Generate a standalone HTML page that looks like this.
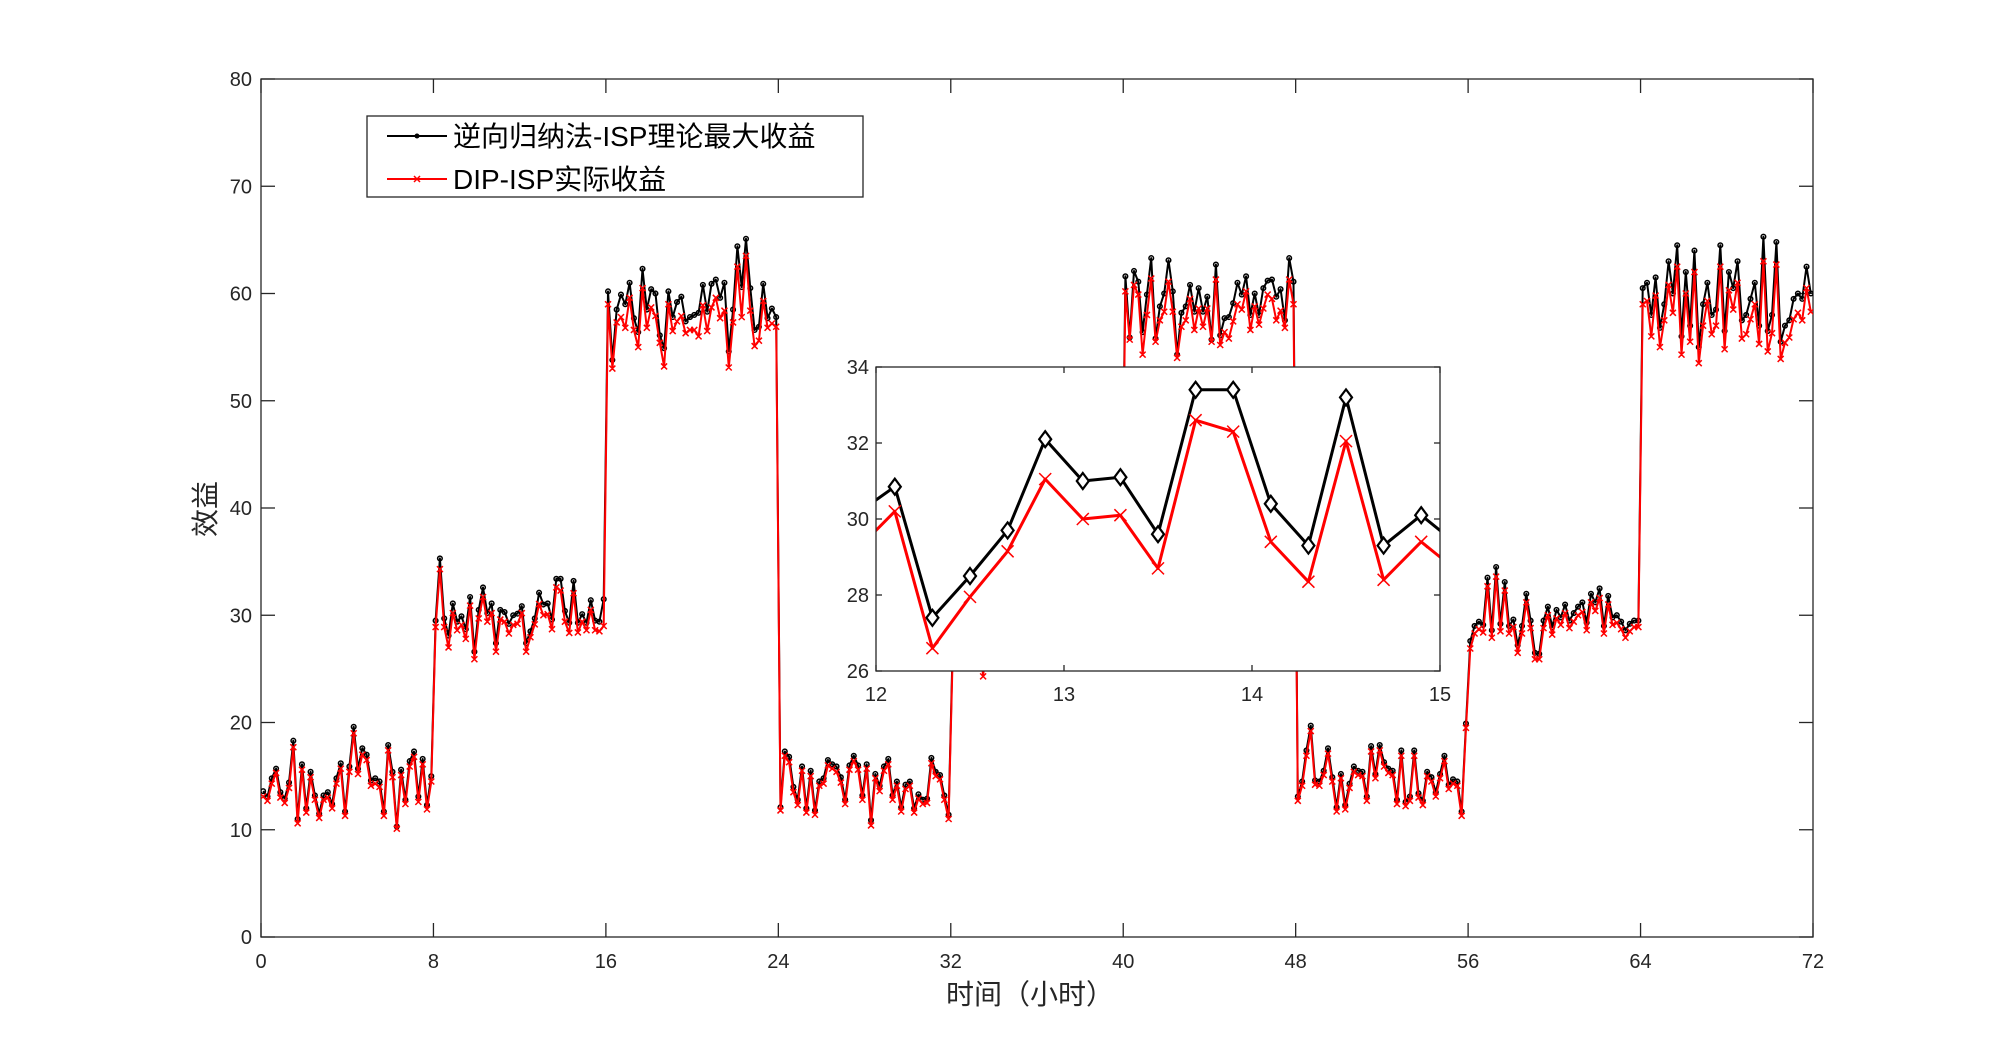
<!DOCTYPE html>
<html><head><meta charset="utf-8"><style>
html,body{margin:0;padding:0;background:#fff;}
svg{display:block;font-family:"Liberation Sans","Noto Sans CJK SC",sans-serif;}
</style></head><body>
<svg id="chart" width="2002" height="1052" viewBox="0 0 2002 1052" xmlns="http://www.w3.org/2000/svg">
<defs>
<clipPath id="mainClip"><rect x="261" y="79" width="1552" height="858"/></clipPath>
<clipPath id="insetClip"><rect x="876" y="367" width="564" height="304"/></clipPath>
</defs>
<rect x="0" y="0" width="2002" height="1052" fill="#fff"/>
<g id="mainPlot"></g>
<text x="0" y="0" transform="translate(215,509) rotate(-90)" text-anchor="middle" font-size="28" fill="#262626">效益</text>
<text x="1030" y="1004" text-anchor="middle" font-size="28" fill="#262626">时间（小时）</text>
<g>
<rect x="367" y="116" width="496" height="81" fill="#fff" stroke="#262626" stroke-width="1.3"/>
<g>
<line x1="387" y1="136" x2="447" y2="136" stroke="#000" stroke-width="2"/>
<circle cx="417" cy="136" r="2.5" fill="#000"/>
<text x="453" y="146" font-size="28" fill="#000">逆向归纳法-ISP理论最大收益</text>
</g>
<g>
<line x1="387" y1="179" x2="447" y2="179" stroke="#f00" stroke-width="2"/>
<path d="M414 176 L420 182 M420 176 L414 182" stroke="#f00" stroke-width="1.5"/>
<text x="453" y="189" font-size="28" fill="#000">DIP-ISP实际收益</text>
</g>
</g>
<g id="insetPlot"></g>
</svg>
<script>
const blackSeg1 = [13.6,13.1,14.8,15.7,13.5,12.9,14.4,18.3,11.0,16.1,12.0,15.4,13.2,11.5,13.2,13.5,12.4,14.8,16.2,11.7,15.9,19.6,15.7,17.6,17.0,14.6,14.8,14.5,11.7,17.9,15.4,10.3,15.6,12.8,16.4,17.3,13.1,16.6,12.3,15.0];
const redSeg1 = [13.1,12.7,14.3,15.3,13.0,12.5,13.9,17.7,10.6,15.6,11.6,14.9,12.8,11.1,12.8,13.0,12.0,14.3,15.7,11.3,15.4,19.0,15.2,17.0,16.5,14.1,14.3,14.0,11.3,17.4,14.9,10.1,15.1,12.4,15.9,16.8,12.6,16.1,11.9,14.5];
const blackSeg2 = [29.5,35.3,29.7,28.1,31.1,29.4,29.9,28.7,31.7,26.6,30.5,32.6,30.2,31.1,27.4,30.5,30.3,29.2,30.0,30.15,30.85,27.4,28.5,29.7,32.1,31.0,31.1,29.6,33.4,33.4,30.4,29.3,33.2,29.3,30.1,29.3,31.4,29.5,29.4,31.5];
const redSeg2 = [28.9,34.3,28.9,27.0,30.2,28.6,29.1,27.8,30.9,25.9,29.7,31.7,29.4,30.2,26.6,29.6,29.4,28.3,29.1,29.2,30.2,26.6,27.95,29.15,31.05,30.0,30.1,28.7,32.6,32.3,29.4,28.35,32.05,28.4,29.4,28.6,30.5,28.6,28.5,29.0];
const blackSeg3 = [60.2,53.8,58.5,59.9,59.0,61.0,57.7,56.4,62.3,58.5,60.4,60.0,56.1,54.9,60.2,57.8,59.2,59.7,57.4,57.8,58.0,58.2,60.8,58.3,60.9,61.3,59.6,61.0,54.6,58.5,64.4,60.6,65.1,60.5,56.6,56.9,60.9,57.7,58.6,57.8];
const redSeg3 = [59.0,53.0,57.3,57.8,56.8,59.6,56.6,55.0,60.5,56.8,58.7,57.9,55.4,53.2,59.0,56.5,57.4,57.9,56.3,56.6,56.6,56.0,58.9,56.5,58.7,59.6,57.7,58.4,53.1,57.3,62.5,57.8,63.5,58.4,55.1,55.6,59.3,56.8,57.2,56.9];
const blackSeg4 = [12.1,17.3,16.8,14.0,12.8,15.9,12.0,15.5,11.8,14.5,14.8,16.5,16.1,15.9,14.9,12.8,16.0,16.9,16.0,13.2,16.1,10.9,15.2,14.1,15.9,16.6,13.2,14.5,12.1,14.2,14.5,12.0,13.3,12.8,12.9,16.7,15.4,15.1,13.2,11.4];
const redSeg4 = [11.8,16.9,16.3,13.5,12.3,15.5,11.6,15.0,11.4,14.1,14.3,16.0,15.7,15.4,14.4,12.4,15.6,16.4,15.6,12.8,15.7,10.4,14.8,13.6,15.5,16.1,12.8,14.1,11.7,13.8,14.1,11.6,12.9,12.4,12.5,16.2,15.0,14.7,12.8,11.0];
const blackSeg5 = [28.0,29.5,31.0,30.2,28.8,27.5,30.5,26.5,29.4,31.5,28.6,30.8,29.9,32.4,28.2,30.6,31.8,29.0,30.4,33.0,28.9,30.2,31.4,29.6,27.9,30.9,32.2,29.8,31.0,28.5,30.7,32.6,29.2,30.1,31.3,28.7,30.5,31.9,29.5,30.6];
const redSeg5 = [27.1,28.6,30.0,29.3,27.9,26.6,29.5,24.3,28.5,30.5,27.7,29.8,29.0,31.4,27.3,29.6,30.8,28.1,29.4,32.0,28.0,29.2,30.4,28.7,27.0,29.9,31.2,28.9,30.0,27.6,29.7,31.6,28.3,29.1,30.3,27.8,29.5,30.9,28.6,29.6];
const blackSeg6 = [61.6,55.9,62.1,61.1,56.4,59.9,63.3,55.8,58.8,60.0,63.1,60.2,54.3,58.2,58.8,60.8,58.3,60.5,58.3,59.7,55.7,62.7,56.1,57.7,57.8,59.1,61.0,59.9,61.6,58.0,60.0,58.0,60.5,61.2,61.3,59.7,60.4,57.5,63.3,61.1];
const redSeg6 = [60.2,55.7,60.8,59.9,54.3,58.0,61.4,55.5,57.5,58.3,61.1,58.3,54.0,56.9,57.5,59.5,56.6,58.6,56.9,58.6,55.5,61.3,55.2,56.4,55.8,57.4,59.0,58.5,60.2,56.6,58.8,57.1,58.6,59.9,59.5,57.5,58.4,56.8,61.3,59.0];
const blackSeg7 = [13.1,14.5,17.4,19.7,14.6,14.5,15.5,17.6,14.9,12.1,15.2,12.3,14.3,15.9,15.5,15.4,13.1,17.8,15.2,17.9,16.3,15.7,15.5,12.8,17.4,12.6,13.1,17.4,13.4,12.7,15.4,14.9,13.5,15.2,16.9,14.2,14.7,14.5,11.7,19.9];
const redSeg7 = [12.7,14.1,16.9,19.2,14.2,14.1,15.1,17.1,14.5,11.7,14.8,11.9,13.9,15.4,15.1,15.0,12.7,17.3,14.8,17.4,15.9,15.3,15.1,12.4,16.9,12.2,12.7,16.9,13.0,12.3,15.0,14.5,13.1,14.8,16.4,13.8,14.3,14.1,11.3,19.5];
const blackSeg8 = [27.6,29.0,29.4,29.1,33.5,28.6,34.5,29.2,33.1,29.0,29.6,27.2,29.0,32.0,29.5,26.5,26.4,29.5,30.8,28.9,30.5,29.8,31.0,29.5,30.2,30.8,31.2,29.3,32.0,31.2,32.5,29.0,31.8,29.8,30.0,29.4,28.6,29.2,29.5,29.5];
const redSeg8 = [26.9,28.3,28.7,28.4,32.7,27.9,33.6,28.5,32.3,28.3,28.9,26.5,28.3,31.2,28.8,25.9,25.9,28.8,30.0,28.2,29.7,29.1,30.2,28.8,29.4,30.0,30.3,28.6,31.2,30.4,31.6,28.3,31.0,29.1,29.3,28.7,27.9,28.5,28.9,28.9];
const blackSeg9 = [60.5,61.0,58.0,61.5,56.8,59.0,63.0,60.0,64.5,56.0,62.0,57.0,64.0,55.0,59.0,61.0,58.0,58.5,64.5,56.5,62.0,60.5,63.0,57.5,58.0,59.5,61.0,57.0,65.3,56.5,58.0,64.8,55.5,57.0,57.5,59.5,60.0,59.5,62.5,60.0];
const redSeg9 = [59.0,59.3,56.0,59.8,55.0,57.5,60.8,58.2,62.5,54.3,60.0,55.5,62.0,53.5,57.0,59.3,56.2,57.0,62.5,54.8,60.3,58.5,61.0,55.8,56.2,57.6,59.0,55.3,63.0,54.6,56.3,62.7,53.9,55.4,55.9,57.6,58.2,57.5,60.5,58.3];
const xTicks = [0,8,16,24,32,40,48,56,64,72];
const yTicks = [0,10,20,30,40,50,60,70,80];
const insetXTicks = [12,13,14,15];
const insetYTicks = [26,28,30,32,34];

const blackVals = [].concat(blackSeg1,blackSeg2,blackSeg3,blackSeg4,blackSeg5,blackSeg6,blackSeg7,blackSeg8,blackSeg9);
const redVals = [].concat(redSeg1,redSeg2,redSeg3,redSeg4,redSeg5,redSeg6,redSeg7,redSeg8,redSeg9);
const times = blackVals.map((v,i)=>0.1+0.2*i);

const NS = 'http://www.w3.org/2000/svg';
function mk(tag, attrs, parent){const e=document.createElementNS(NS,tag);for(const k in attrs)e.setAttribute(k,attrs[k]);parent.appendChild(e);return e;}

const M = {l:261,r:1813,t:79,b:937,x0:0,x1:72,y0:0,y1:80};
const mx = t => M.l + (t-M.x0)/(M.x1-M.x0)*(M.r-M.l);
const my = v => M.b - (v-M.y0)/(M.y1-M.y0)*(M.b-M.t);
const main = document.getElementById('mainPlot');
const mainBox = mk('rect',{x:M.l,y:M.t,width:M.r-M.l,height:M.b-M.t,fill:'#fff',stroke:'#262626','stroke-width':1.3},main);


xTicks.forEach(t=>{
  const x=mx(t);
  mk('line',{x1:x,y1:M.b,x2:x,y2:M.b-14,stroke:'#262626','stroke-width':1.3},main);
  mk('line',{x1:x,y1:M.t,x2:x,y2:M.t+14,stroke:'#262626','stroke-width':1.3},main);
  const lb=mk('text',{x:x,y:M.b+31,'text-anchor':'middle','font-size':20,fill:'#262626'},main);
  lb.textContent=t;
  
  
});
yTicks.forEach(v=>{
  const y=my(v);
  mk('line',{x1:M.l,y1:y,x2:M.l+14,y2:y,stroke:'#262626','stroke-width':1.3},main);
  mk('line',{x1:M.r,y1:y,x2:M.r-14,y2:y,stroke:'#262626','stroke-width':1.3},main);
  const lb=mk('text',{x:M.l-9,y:y+7,'text-anchor':'end','font-size':20,fill:'#262626'},main);
  lb.textContent=v;
  
  
});

function drawSeries(parent, xs, ys, fx, fy, color, width, marker, msize, name, clip){
  const g=mk('g',{'clip-path':'url(#'+clip+')'},parent);
  
  
  const pts=xs.map((t,i)=>fx(t).toFixed(1)+','+fy(ys[i]).toFixed(1)).join(' ');
  mk('polyline',{points:pts,fill:'none',stroke:color,'stroke-width':width,'stroke-linejoin':'round'},g);
  let d='';
  xs.forEach((t,i)=>{
    const x=fx(t), y=fy(ys[i]), s=msize;
    if(marker==='o') d+=`M${x-s} ${y}a${s} ${s} 0 1 0 ${2*s} 0a${s} ${s} 0 1 0 ${-2*s} 0`;
    else if(marker==='x') d+=`M${x-s} ${y-s}L${x+s} ${y+s}M${x+s} ${y-s}L${x-s} ${y+s}`;
    else if(marker==='d') d+=`M${x} ${y-s}L${x+s*0.75} ${y}L${x} ${y+s}L${x-s*0.75} ${y}Z`;
  });
  mk('path',{d:d,fill:marker==='d'?'#fff':'none',stroke:color,'stroke-width':marker==='d'?2.2:1.5},g);
}
drawSeries(main,times,blackVals,mx,my,'#000',2,'o',2.3,'series-theoretical-max','mainClip');
drawSeries(main,times,redVals,mx,my,'#f00',2,'x',3,'series-dip-isp-actual','mainClip');

const I = {l:876,r:1440,t:367,b:671,x0:12,x1:15,y0:26,y1:34};
const ix = t => I.l + (t-I.x0)/(I.x1-I.x0)*(I.r-I.l);
const iy = v => I.b - (v-I.y0)/(I.y1-I.y0)*(I.b-I.t);
const inset=document.getElementById('insetPlot');
const ibg=mk('rect',{x:I.l,y:I.t,width:I.r-I.l,height:I.b-I.t,fill:'#fff'},inset);


const iT=[],iB=[],iR=[];
times.forEach((t,i)=>{ if(t>11.7&&t<15.3){iT.push(t);iB.push(blackVals[i]);iR.push(redVals[i]);} });
drawSeries(inset,iT,iB,ix,iy,'#000',3,'d',8,'inset-series-theoretical-max','insetClip');
drawSeries(inset,iT,iR,ix,iy,'#f00',3,'x',6,'inset-series-dip-isp-actual','insetClip');
const ibox=mk('rect',{x:I.l,y:I.t,width:I.r-I.l,height:I.b-I.t,fill:'none',stroke:'#262626','stroke-width':1.3},inset);


insetXTicks.forEach(t=>{
  const x=ix(t);
  mk('line',{x1:x,y1:I.b,x2:x,y2:I.b-6,stroke:'#262626','stroke-width':1.3},inset);
  mk('line',{x1:x,y1:I.t,x2:x,y2:I.t+6,stroke:'#262626','stroke-width':1.3},inset);
  const lb=mk('text',{x:x,y:I.b+30,'text-anchor':'middle','font-size':20,fill:'#262626'},inset);
  lb.textContent=t;
  
  
});
insetYTicks.forEach(v=>{
  const y=iy(v);
  mk('line',{x1:I.l,y1:y,x2:I.l+6,y2:y,stroke:'#262626','stroke-width':1.3},inset);
  mk('line',{x1:I.r,y1:y,x2:I.r-6,y2:y,stroke:'#262626','stroke-width':1.3},inset);
  const lb=mk('text',{x:I.l-7,y:y+7,'text-anchor':'end','font-size':20,fill:'#262626'},inset);
  lb.textContent=v;
  
  
});
</script>
</body></html>
